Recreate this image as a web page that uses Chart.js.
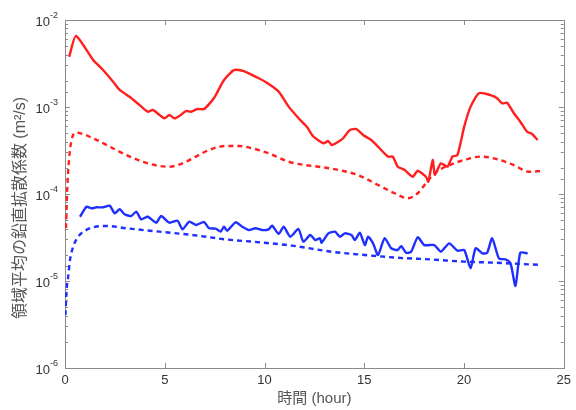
<!DOCTYPE html>
<html>
<head>
<meta charset="utf-8">
<script src="https://cdn.jsdelivr.net/npm/chart.js@4.4.1/dist/chart.umd.min.js"></script>
<style>
  body { margin: 0; background: #fff; }
  #wrap { width: 576px; height: 410px; }
</style>
</head>
<body>
<div id="wrap"><canvas id="kzChart" width="576" height="410"></canvas></div>
<script>
// 時間 (hour) と 拡散係数 (m2/s)
const redSolidHours = [0.21, 0.55, 1.41, 1.91, 2.41, 2.74, 3.24, 3.74, 4.15, 4.40, 4.98, 5.23, 5.48, 5.73, 6.06, 6.31, 6.64, 6.97, 7.47, 7.97,
    8.47, 8.96, 9.55, 10.04, 10.71, 11.21, 11.70, 12.12, 12.45, 12.95, 13.20, 13.36, 13.70, 13.94, 14.28, 14.61, 14.94, 15.35, 15.69, 16.19,
    16.43, 16.68, 17.02, 17.43, 17.68, 18.09, 18.21, 18.43, 18.54, 18.84, 19.17, 19.42, 19.67, 20.01, 20.33, 20.75, 21.33, 21.66, 21.91, 22.16,
    22.50, 22.82, 23.16, 23.41, 23.69];
const redSolidValues = [3.78e-3, 6.55e-3, 3.47e-3, 2.66e-3, 1.95e-3, 1.57e-3, 1.31e-3, 1.05e-3, 8.83e-4, 9.25e-4, 7.41e-4, 8.09e-4, 7.41e-4, 7.89e-4, 8.99e-4, 8.83e-4, 9.48e-4, 9.48e-4, 1.27e-3, 2.04e-3,
    2.66e-3, 2.59e-3, 2.23e-3, 1.95e-3, 1.50e-3, 1.01e-3, 7.48e-4, 5.94e-4, 4.58e-4, 3.83e-4, 4.06e-4, 3.66e-4, 3.99e-4, 4.37e-4, 5.44e-4, 5.58e-4, 4.76e-4, 4.18e-4, 3.50e-4, 2.69e-4,
    2.69e-4, 2.06e-4, 1.89e-4, 1.58e-4, 1.85e-4, 1.58e-4, 1.38e-4, 2.46e-4, 1.65e-4, 2.25e-4, 2.06e-4, 2.69e-4, 2.81e-4, 5.94e-4, 1.01e-3, 1.44e-3, 1.37e-3, 1.26e-3, 1.10e-3, 1.12e-3,
    8.47e-4, 6.78e-4, 5.20e-4, 4.90e-4, 4.18e-4];

const redDashHours = [0.05, 0.11, 0.20, 0.33, 0.55, 1.41, 2.24, 3.07, 3.90, 4.73, 5.23, 5.89, 6.56, 7.22, 8.05, 8.72, 9.38, 10.21, 11.21, 12.04,
    12.70, 13.70, 14.69, 15.69, 16.52, 17.18, 17.68, 18.09, 18.51, 19.17, 20.01, 20.83, 21.66, 22.50, 23.24, 23.90];
const redDashValues = [4.06e-5, 1.11e-4, 2.46e-4, 4.18e-4, 5.07e-4, 4.37e-4, 3.50e-4, 2.81e-4, 2.35e-4, 2.10e-4, 2.06e-4, 2.25e-4, 2.69e-4, 3.21e-4, 3.56e-4, 3.56e-4, 3.35e-4, 2.94e-4, 2.35e-4, 2.15e-4,
    2.06e-4, 1.89e-4, 1.65e-4, 1.27e-4, 1.02e-4, 8.93e-5, 1.02e-4, 1.33e-4, 1.73e-4, 2.10e-4, 2.46e-4, 2.69e-4, 2.51e-4, 2.15e-4, 1.80e-4, 1.84e-4];

const blueSolidHours = [0.75, 1.08, 1.33, 1.58, 1.91, 2.24, 2.49, 2.74, 2.99, 3.32, 3.57, 3.82, 4.15, 4.57, 4.82, 5.23, 5.64, 5.89, 6.23, 6.56,
    6.97, 7.22, 7.55, 7.80, 7.97, 8.13, 8.55, 8.88, 9.21, 9.55, 9.88, 10.21, 10.38, 10.71, 10.96, 11.29, 11.70, 11.95, 12.29, 12.54,
    12.78, 12.86, 13.20, 13.53, 13.78, 14.03, 14.36, 14.53, 14.78, 15.03, 15.19, 15.44, 15.69, 16.02, 16.35, 16.68, 16.85, 17.10, 17.35, 17.68,
    18.01, 18.51, 18.84, 19.26, 19.67, 20.01, 20.33, 20.58, 20.92, 21.16, 21.41, 21.75, 22.08, 22.33, 22.58, 22.82, 23.19];
const blueSolidValues = [5.48e-5, 7.14e-5, 6.85e-5, 7.03e-5, 7.03e-5, 7.35e-5, 6.00e-5, 6.67e-5, 5.85e-5, 5.58e-5, 6.27e-5, 5.12e-5, 5.48e-5, 4.68e-5, 5.58e-5, 4.68e-5, 4.93e-5, 3.93e-5, 4.81e-5, 4.41e-5,
    4.76e-5, 4.04e-5, 3.99e-5, 3.69e-5, 4.21e-5, 3.78e-5, 4.73e-5, 4.21e-5, 3.85e-5, 4.04e-5, 3.85e-5, 3.93e-5, 4.33e-5, 3.47e-5, 4.21e-5, 3.23e-5, 3.96e-5, 2.83e-5, 3.38e-5, 2.96e-5,
    3.10e-5, 2.75e-5, 3.53e-5, 3.69e-5, 3.23e-5, 3.53e-5, 3.38e-5, 2.96e-5, 3.59e-5, 2.59e-5, 3.23e-5, 2.71e-5, 1.99e-5, 3.10e-5, 2.38e-5, 2.27e-5, 2.52e-5, 2.11e-5, 2.17e-5, 3.18e-5,
    2.59e-5, 2.59e-5, 2.17e-5, 2.71e-5, 2.23e-5, 2.27e-5, 1.40e-5, 2.38e-5, 2.08e-5, 2.11e-5, 3.10e-5, 1.82e-5, 1.77e-5, 1.60e-5, 8.77e-6, 2.11e-5, 2.08e-5];

const blueDashHours = [0.02, 0.08, 0.16, 0.25, 0.41, 0.66, 1.00, 1.41, 2.08, 3.07, 4.73, 6.39, 8.05, 9.71, 11.37, 13.36, 15.03, 16.68, 18.34, 20.01,
    21.66, 23.32, 23.90];
const blueDashValues = [4.06e-6, 7.89e-6, 1.12e-5, 1.74e-5, 2.48e-5, 3.23e-5, 3.78e-5, 4.14e-5, 4.29e-5, 4.04e-5, 3.69e-5, 3.38e-5, 3.01e-5, 2.79e-5, 2.55e-5, 2.17e-5, 1.99e-5, 1.85e-5, 1.77e-5, 1.67e-5,
    1.62e-5, 1.55e-5, 1.53e-5];

const xTickStep = 5;
const yTitle = '領域平均の鉛直拡散係数 (m²/s)';
const xTitle = '時間 (hour)';

const RED = '#ff1f1f';
const BLUE = '#1f2fff';
const FONT = "'Liberation Sans', Arial, 'Noto Sans CJK JP', sans-serif";

function toPoints(xs, ys) {
    return xs.map((h, i) => ({ x: h, y: ys[i] }));
}

// frame, inside ticks, 10^n labels and the vertical title
const axisDecor = {
    id: 'axisDecor',
    beforeDatasetsDraw(chart) {
        const { ctx, chartArea: a, scales: { x, y } } = chart;
        ctx.save();
        ctx.strokeStyle = '#8a8a8a';
        ctx.lineWidth = 1;
        ctx.strokeRect(Math.round(a.left) + 0.5, Math.round(a.top) + 0.5, Math.round(a.right - a.left), Math.round(a.bottom - a.top));
        ctx.beginPath();
        x.ticks.forEach(t => {
            const px = Math.round(x.getPixelForValue(t.value)) + 0.5;
            ctx.moveTo(px, a.bottom); ctx.lineTo(px, a.bottom - 5);
            ctx.moveTo(px, a.top); ctx.lineTo(px, a.top + 5);
        });
        y.ticks.forEach(t => {
            const lg = Math.log10(t.value);
            const major = Math.abs(lg - Math.round(lg)) < 1e-6;
            const len = major ? 5 : 3;
            const py = Math.round(y.getPixelForValue(t.value)) + 0.5;
            ctx.moveTo(a.left, py); ctx.lineTo(a.left + len, py);
            ctx.moveTo(a.right, py); ctx.lineTo(a.right - len, py);
        });
        ctx.stroke();

        ctx.fillStyle = '#333';
        y.ticks.forEach(t => {
            const lg = Math.log10(t.value);
            if (Math.abs(lg - Math.round(lg)) > 1e-6) return;
            const py = y.getPixelForValue(t.value);
            ctx.font = '13px ' + FONT;
            ctx.textAlign = 'right';
            ctx.textBaseline = 'middle';
            ctx.fillText('10', a.left - 15, py + 2);
            ctx.font = '9px ' + FONT;
            ctx.textAlign = 'left';
            ctx.fillText('-' + Math.abs(Math.round(lg)), a.left - 15, py - 4);
        });

        // y title, a little below the middle as in the original
        ctx.fillStyle = '#555';
        ctx.font = '16px ' + FONT;
        ctx.textAlign = 'center';
        ctx.textBaseline = 'middle';
        ctx.translate(21, (a.top + a.bottom) / 2 + 14);
        ctx.rotate(-Math.PI / 2);
        ctx.fillText(yTitle, 0, 0);
        ctx.restore();
    }
};

document.addEventListener('DOMContentLoaded', function() {
    const ctx = document.getElementById('kzChart');
    new Chart(ctx, {
        type: 'line',
        data: {
            datasets: [
                {
                    data: toPoints(redSolidHours, redSolidValues),
                    borderColor: RED,
                    borderWidth: 2.4,
                    tension: 0.2
                },
                {
                    data: toPoints(redDashHours, redDashValues),
                    borderColor: RED,
                    borderWidth: 2.4,
                    borderDash: [5, 4],
                    cubicInterpolationMode: 'monotone'
                },
                {
                    data: toPoints(blueSolidHours, blueSolidValues),
                    borderColor: BLUE,
                    borderWidth: 2.4,
                    tension: 0.2
                },
                {
                    data: toPoints(blueDashHours, blueDashValues),
                    borderColor: BLUE,
                    borderWidth: 2.4,
                    borderDash: [5, 4],
                    cubicInterpolationMode: 'monotone'
                }
            ]
        },
        options: {
            responsive: false,
            animation: false,
            events: [],
            layout: { padding: { top: 20, right: 9, left: 0, bottom: 0 } },
            elements: { point: { radius: 0 } },
            plugins: {
                legend: { display: false },
                tooltip: { enabled: false }
            },
            scales: {
                x: {
                    type: 'linear',
                    min: 0,
                    max: 25,
                    grid: { display: false, drawTicks: false },
                    border: { display: false },
                    ticks: {
                        stepSize: xTickStep,
                        padding: 5,
                        color: '#333',
                        font: { family: FONT, size: 13 },
                        maxRotation: 0
                    },
                    title: {
                        display: true,
                        text: xTitle,
                        color: '#555',
                        font: { family: FONT, size: 15 },
                        padding: { top: 0, bottom: 2 }
                    },
                    afterFit: function(scale) { scale.height = 42; }
                },
                y: {
                    type: 'logarithmic',
                    min: 1e-6,
                    max: 1e-2,
                    grid: { display: false, drawTicks: false },
                    border: { display: false },
                    ticks: { display: false },
                    afterFit: function(scale) { scale.width = 65; }
                }
            }
        },
        plugins: [axisDecor]
    });
});
</script>
</body>
</html>
